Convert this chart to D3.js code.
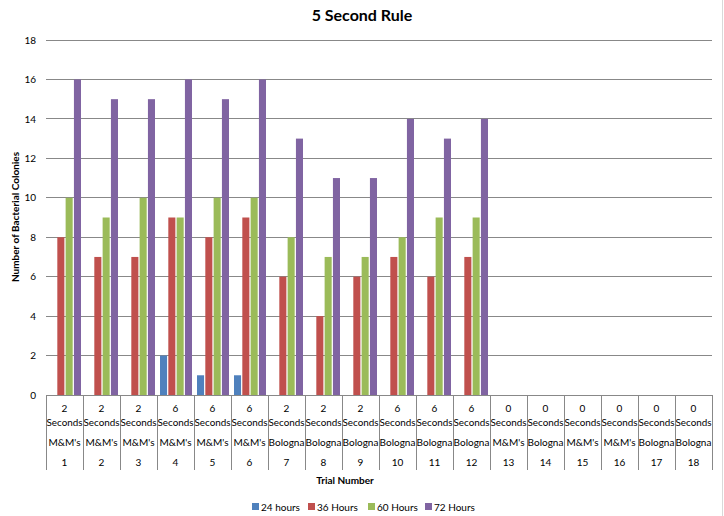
<!DOCTYPE html>
<html><head><meta charset="utf-8">
<script src="https://cdn.jsdelivr.net/npm/d3@7"></script>
<style>body{margin:0;background:#fff}svg{display:block;font-family:Lato,"Open Sans",sans-serif}</style>
</head><body>
<svg id="c" width="724" height="516"></svg>
<script>
const trials = ["1","2","3","4","5","6","7","8","9","10","11","12","13","14","15","16","17","18"];
const seconds = ["2","2","2","6","6","6","2","2","2","6","6","6","0","0","0","0","0","0"];
const foods = ["M&M's","M&M's","M&M's","M&M's","M&M's","M&M's","Bologna","Bologna","Bologna","Bologna","Bologna","Bologna","M&M's","Bologna","M&M's","M&M's","Bologna","Bologna"];
const seriesNames = ["24 hours","36 Hours","60 Hours","72 Hours"];
const h24 = [0,0,0,2,1,1,0,0,0,0,0,0,0,0,0,0,0,0];
const h36 = [8,7,7,9,8,9,6,4,6,7,6,7,0,0,0,0,0,0];
const h60 = [10,9,10,9,10,10,8,7,7,8,9,9,0,0,0,0,0,0];
const h72 = [16,15,15,16,15,16,13,11,11,14,13,14,0,0,0,0,0,0];
const yTicks = [0,2,4,6,8,10,12,14,16,18];
const colors = ["#4F81BD","#C0504D","#9BBB59","#8064A2"];
const values = [h24,h36,h60,h72];

const svg = d3.select("#c");
const L=46,R=712,T=40,B=395;
const x = d3.scaleBand().domain(trials).range([L,R]).padding(0);
const x1 = d3.scaleBand().domain(seriesNames).range([3, x.bandwidth()-2]).paddingInner(0.15);
const y = d3.scaleLinear().domain([0,18]).range([B,T]);

// chart border
svg.append("rect").attr("x",-1).attr("y",-1).attr("width",723.5).attr("height",518)
  .attr("fill","none").attr("stroke","#d9d9d9");

// title
svg.append("text").attr("x",362).attr("y",21).attr("text-anchor","middle")
  .attr("font-size",16).attr("font-weight","bold").text("5 Second Rule");

// gridlines
svg.append("g").selectAll("line").data(yTicks.slice(1)).join("line")
  .attr("x1",L).attr("x2",R).attr("y1",d=>y(d)).attr("y2",d=>y(d))
  .attr("stroke","#888").attr("stroke-width",1).attr("shape-rendering","crispEdges");

// y axis labels
const ya = svg.append("g").attr("transform",`translate(${L-10},0)`)
  .call(d3.axisLeft(y).tickValues(yTicks).tickSize(0).tickPadding(0));
ya.select(".domain").remove();
ya.selectAll("text").attr("font-size",10).attr("font-family","Lato,sans-serif").attr("fill","#000");

// bars
const g = svg.append("g");
trials.forEach((t,i)=>{
  seriesNames.forEach((s,j)=>{
    const v = values[j][i];
    if(v>0) g.append("rect").attr("x",x(t)+x1(s)).attr("width",x1.bandwidth())
      .attr("y",y(v)).attr("height",y(0)-y(v)).attr("fill",colors[j]);
  });
});

// x axis line and category separators
svg.append("line").attr("x1",L).attr("x2",R).attr("y1",B).attr("y2",B)
  .attr("stroke","#888").attr("shape-rendering","crispEdges");
const seps = trials.map(t=>x(t)).concat([R]);
svg.append("g").selectAll("line").data(seps).join("line")
  .attr("x1",d=>d).attr("x2",d=>d).attr("y1",B).attr("y2",470)
  .attr("stroke","#888").attr("shape-rendering","crispEdges");

// multi-level labels
const lab = svg.append("g").attr("font-size",10).attr("text-anchor","middle").attr("fill","#000");
trials.forEach((t,i)=>{
  const cx = x(t)+x.bandwidth()/2;
  lab.append("text").attr("x",cx).attr("y",412).text(seconds[i]);
  lab.append("text").attr("x",cx).attr("y",426).attr("textLength",36).attr("lengthAdjust","spacingAndGlyphs").text("Seconds");
  lab.append("text").attr("x",cx).attr("y",446).text(foods[i]);
  lab.append("text").attr("x",cx).attr("y",466).text(t);
});

// axis titles
svg.append("text").attr("x",345).attr("y",484).attr("text-anchor","middle")
  .attr("font-size",10).attr("font-weight","bold").text("Trial Number");
svg.append("text").attr("transform","translate(19,217) rotate(-90)").attr("text-anchor","middle")
  .attr("font-size",10).attr("font-weight","bold").text("Number of Bacterial Colonies");

// legend
const lx = [252,308,368,425];
const lg = svg.append("g");
seriesNames.forEach((s,j)=>{
  lg.append("rect").attr("x",lx[j]).attr("y",503).attr("width",7).attr("height",7).attr("fill",colors[j]);
  lg.append("text").attr("x",lx[j]+9).attr("y",510.5).attr("font-size",10).text(s);
});
</script>
</body></html>
